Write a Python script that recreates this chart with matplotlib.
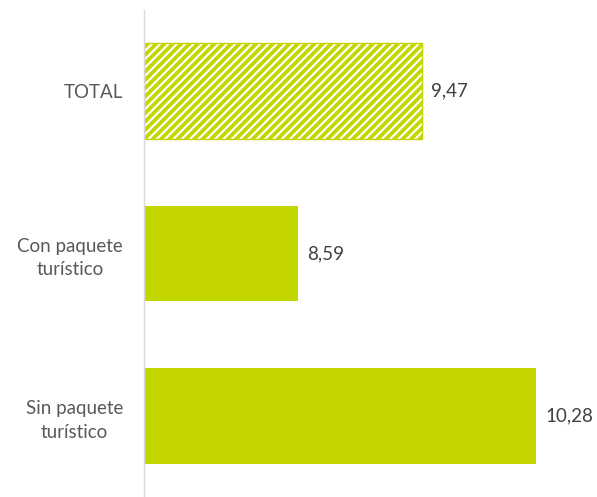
import numpy as np
import matplotlib.pyplot as plt

# datos (orden de arriba a abajo)
categorias = ['TOTAL', 'Con paquete\nturístico', 'Sin paquete\nturístico']
valores = [9.47, 8.59, 10.28]
etiquetas = ['9,47', '8,59', '10,28']

verde = '#C4D600'
plt.rcParams['font.family'] = ['Lato', 'DejaVu Sans']
plt.rcParams['hatch.linewidth'] = 2.7
plt.rcParams['hatch.color'] = verde

fig = plt.figure(figsize=(5.97, 4.97), dpi=100)
ax = fig.add_axes([144 / 597, 0.0, (592 - 144) / 597, 487 / 497])

y = np.arange(len(categorias))
x0 = 7.5  # el eje no empieza en cero
barras = ax.barh(y, np.array(valores) - x0, left=x0, height=0.59, color=verde)

# TOTAL con rayado
barras[0].set_facecolor('white')
barras[0].set_edgecolor(verde)
barras[0].set_hatch('////')
barras[0].set_linewidth(1)

# etiquetas de valor
for yi, v, t in zip(y, valores, etiquetas):
    ax.annotate(t, (v, yi), xytext=(7, 0), textcoords='offset points',
                va='center', ha='left', fontsize=13.5, color='#404040')

ax.set_xlim(x0, 10.68)
ax.set_ylim(2.5, -0.5)
ax.set_yticks(y)
ax.set_yticklabels(categorias, fontsize=13.5, color='#595959', ha='right',
                   multialignment='center', linespacing=1.45)
ax.tick_params(axis='y', length=0, pad=15)
ax.set_xticks([])

for s in ['top', 'right', 'bottom']:
    ax.spines[s].set_visible(False)
ax.spines['left'].set_color('#d9d9d9')
ax.spines['left'].set_linewidth(1)

fig.savefig('out.png', dpi=100)
